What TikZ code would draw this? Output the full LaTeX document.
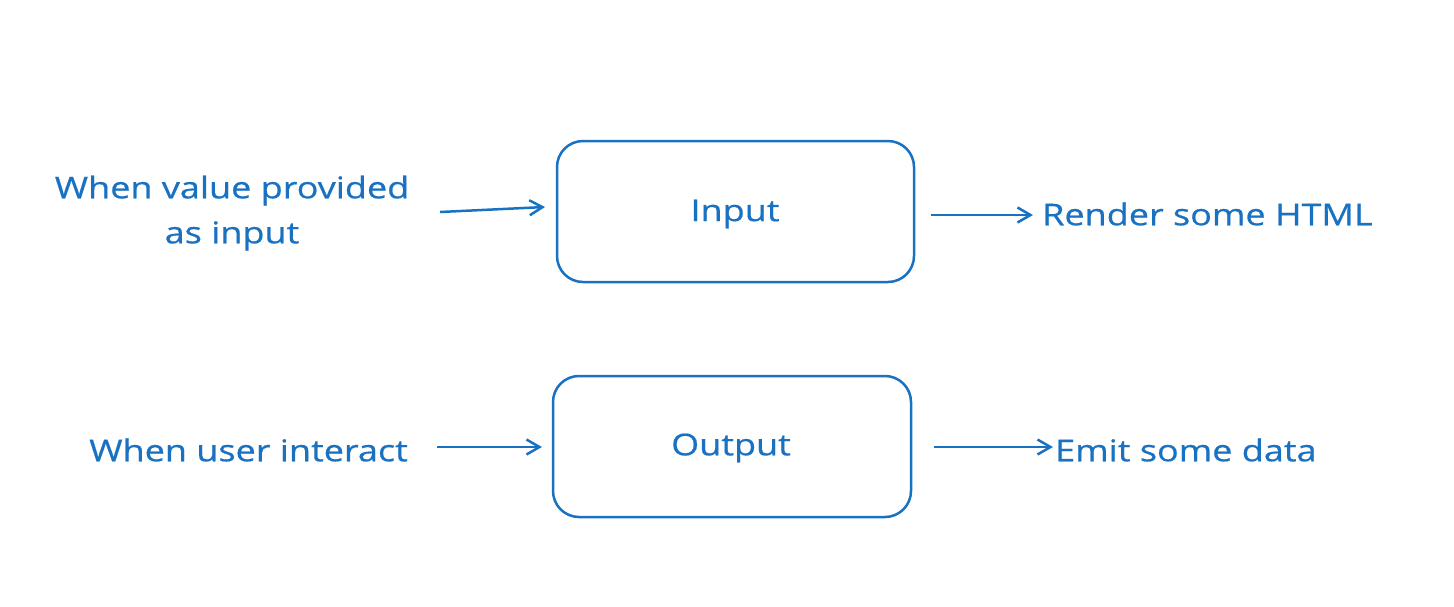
\documentclass[tikz,border=0pt]{standalone}
\usepackage{fontspec}
\setmainfont[FakeStretch=1.2,FakeBold=0.6]{Open Sans}
\usetikzlibrary{arrows.meta}
\definecolor{exblue}{HTML}{1971C2}
\begin{document}
\begin{tikzpicture}[x=1pt,y=-1pt,
  every node/.style={text=exblue,font=\fontsize{30}{45}\selectfont},
  box/.style={draw=exblue,line width=2.5pt,rounded corners=26pt,inner sep=0pt},
  lbl/.style={inner sep=0pt,align=center},
  conn/.style={draw=exblue,line width=2.5pt,-{Straight Barb[length=13pt,width=15pt,line width=2.5pt]}}]
\useasboundingbox (0,0) rectangle (1454,606);
\node[box,minimum width=357pt,minimum height=141pt] (in) at (735.5,211.5) {};
\node[lbl] at (735,214) (intext) {Input};
\node[box,minimum width=358pt,minimum height=141pt] (out) at (732,446.5) {};
\node[lbl] at (731,448) (outtext) {Output};
\node[lbl] (t1) at (232,213) {When value provided\\as input};
\node[lbl,anchor=west] (t2) at (1042,214) {Render some HTML};
\node[lbl,anchor=east] (t3) at (408,450) {When user interact};
\node[lbl,anchor=west] (t4) at (1055,450) {Emit some data};
\coordinate (a1s) at (440,212);
\coordinate (a1e) at (545,207);
\coordinate (a2s) at (931,215);
\coordinate (a2e) at (1033,215);
\coordinate (a3s) at (437,447);
\coordinate (a3e) at (542,447);
\coordinate (a4s) at (934,447);
\coordinate (a4e) at (1053,447);
\draw[conn] (a1s) -- (a1e);
\draw[conn] (a2s) -- (a2e);
\draw[conn] (a3s) -- (a3e);
\draw[conn] (a4s) -- (a4e);
\end{tikzpicture}
\end{document}
